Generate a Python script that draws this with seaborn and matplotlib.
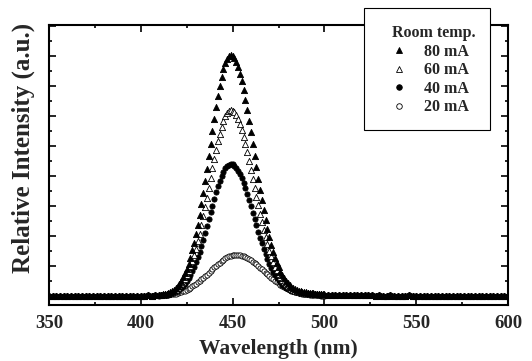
import numpy as np
import pandas as pd
import matplotlib
matplotlib.use("Agg")
import matplotlib.pyplot as plt
from matplotlib.ticker import MultipleLocator
from matplotlib.lines import Line2D
from matplotlib.patches import Rectangle
import seaborn as sns

# ---------------- data ----------------
wl_left = list(range(350, 410, 2))        # baseline, left side
wl_peak = list(range(410, 501))           # emission band, 1 nm steps
wl_right = list(range(502, 601, 2))       # baseline, right side

base_left = [0.01, 0.00, 0.01, 0.01, 0.00, 0.01, 0.00, 0.01, 0.01, 0.00,
             0.01, 0.00, 0.01, 0.01, 0.00, 0.01, 0.01, 0.00, 0.01, 0.01,
             0.00, 0.01, 0.01, 0.00, 0.01, 0.01, 0.01, 0.02, 0.01, 0.02]
base_right = [0.04, 0.04, 0.03, 0.03, 0.03, 0.03, 0.02, 0.02, 0.02, 0.02,
              0.02, 0.02, 0.02, 0.01, 0.02, 0.01, 0.01, 0.02, 0.01, 0.01,
              0.01, 0.01, 0.02, 0.01, 0.01, 0.01, 0.00, 0.01, 0.01, 0.01,
              0.00, 0.01, 0.01, 0.00, 0.01, 0.01, 0.00, 0.01, 0.01, 0.00,
              0.01, 0.00, 0.01, 0.01, 0.00, 0.01, 0.00, 0.01, 0.01, 0.00]

i80 = [0.03, 0.03, 0.05, 0.06, 0.08, 0.10, 0.13, 0.17, 0.21, 0.27,
       0.33, 0.41, 0.51, 0.63, 0.75, 0.91, 1.08, 1.28, 1.52, 1.77,
       2.05, 2.36, 2.69, 3.05, 3.43, 3.83, 4.24, 4.66, 5.08, 5.50,
       5.91, 6.30, 6.67, 7.01, 7.31, 7.56, 7.77, 7.91, 8.00, 8.03,
       8.01, 7.93, 7.81, 7.63, 7.41, 7.15, 6.87, 6.54, 6.20, 5.83,
       5.45, 5.07, 4.67, 4.29, 3.91, 3.54, 3.19, 2.85, 2.53, 2.23,
       1.96, 1.71, 1.48, 1.27, 1.10, 0.95, 0.81, 0.69, 0.59, 0.50,
       0.42, 0.36, 0.31, 0.27, 0.23, 0.20, 0.18, 0.16, 0.14, 0.13,
       0.12, 0.11, 0.10, 0.09, 0.09, 0.08, 0.07, 0.07, 0.06, 0.06,
       0.05]
i60 = [0.02, 0.03, 0.04, 0.05, 0.06, 0.08, 0.10, 0.13, 0.16, 0.21,
       0.26, 0.32, 0.39, 0.48, 0.58, 0.70, 0.84, 0.99, 1.17, 1.36,
       1.58, 1.82, 2.08, 2.36, 2.65, 2.96, 3.27, 3.60, 3.92, 4.25,
       4.56, 4.87, 5.15, 5.41, 5.64, 5.83, 6.00, 6.11, 6.18, 6.20,
       6.18, 6.12, 6.03, 5.89, 5.72, 5.52, 5.30, 5.05, 4.79, 4.50,
       4.21, 3.91, 3.61, 3.31, 3.02, 2.73, 2.46, 2.20, 1.95, 1.72,
       1.51, 1.32, 1.14, 0.98, 0.85, 0.73, 0.63, 0.53, 0.46, 0.39,
       0.33, 0.28, 0.24, 0.21, 0.18, 0.16, 0.14, 0.13, 0.11, 0.10,
       0.09, 0.09, 0.08, 0.07, 0.07, 0.06, 0.06, 0.05, 0.05, 0.04,
       0.04]
i40 = [0.01, 0.02, 0.03, 0.03, 0.04, 0.06, 0.07, 0.09, 0.12, 0.15,
       0.18, 0.23, 0.28, 0.34, 0.41, 0.50, 0.59, 0.70, 0.83, 0.97,
       1.12, 1.29, 1.47, 1.67, 1.88, 2.10, 2.32, 2.55, 2.79, 3.01,
       3.24, 3.45, 3.66, 3.84, 4.00, 4.14, 4.25, 4.33, 4.38, 4.40,
       4.39, 4.34, 4.28, 4.18, 4.06, 3.92, 3.76, 3.59, 3.40, 3.19,
       2.99, 2.78, 2.56, 2.35, 2.14, 1.94, 1.75, 1.56, 1.39, 1.22,
       1.07, 0.94, 0.81, 0.70, 0.61, 0.52, 0.45, 0.38, 0.33, 0.28,
       0.24, 0.21, 0.18, 0.16, 0.14, 0.12, 0.11, 0.10, 0.09, 0.08,
       0.07, 0.07, 0.06, 0.06, 0.05, 0.05, 0.04, 0.04, 0.04, 0.03,
       0.03]
i20 = [0.02, 0.02, 0.02, 0.03, 0.03, 0.04, 0.05, 0.06, 0.07, 0.08,
       0.10, 0.12, 0.14, 0.16, 0.18, 0.21, 0.24, 0.28, 0.32, 0.36,
       0.40, 0.45, 0.49, 0.55, 0.60, 0.65, 0.71, 0.77, 0.83, 0.89,
       0.95, 1.01, 1.06, 1.11, 1.16, 1.21, 1.25, 1.29, 1.32, 1.34,
       1.36, 1.37, 1.37, 1.37, 1.36, 1.34, 1.32, 1.30, 1.26, 1.23,
       1.19, 1.14, 1.10, 1.05, 0.99, 0.94, 0.89, 0.83, 0.78, 0.72,
       0.67, 0.61, 0.56, 0.51, 0.47, 0.42, 0.38, 0.34, 0.31, 0.27,
       0.24, 0.21, 0.19, 0.16, 0.14, 0.12, 0.11, 0.09, 0.08, 0.07,
       0.06, 0.05, 0.04, 0.03, 0.03, 0.02, 0.02, 0.02, 0.01, 0.01,
       0.01]

series_labels = ["80 mA", "60 mA", "40 mA", "20 mA"]
legend_title = "Room temp."
x_ticks = [350, 400, 450, 500, 550, 600]

# ---------------- build table ----------------
wl_all = wl_left + wl_peak + wl_right
rows = []
for lab, vals in zip(series_labels, [i80, i60, i40, i20]):
    full = base_left + vals + base_right
    for w, v in zip(wl_all, full):
        rows.append((lab, w, v))
df = pd.DataFrame(rows, columns=["current", "wavelength", "intensity"])

# ---------------- plot ----------------
sns.set_theme(style="ticks")
plt.rcParams["font.family"] = ["Liberation Serif", "DejaVu Serif"]
plt.rcParams["font.weight"] = "bold"

W, H = 532, 361
fig = plt.figure(figsize=(W / 100, H / 100), dpi=100)
ax = fig.add_axes([49 / W, 1 - 305 / H, (508 - 49) / W, (305 - 25) / H])

styles = {
    "80 mA": dict(marker="^", facecolor="black", edgecolor="black", s=20),
    "60 mA": dict(marker="^", facecolor="white", edgecolor="black", s=20),
    "40 mA": dict(marker="o", facecolor="black", edgecolor="black", s=14),
    "20 mA": dict(marker="o", facecolor="white", edgecolor="black", s=14),
}
for lab in reversed(series_labels):
    st = styles[lab]
    sub = df[df["current"] == lab]
    sns.scatterplot(data=sub, x="wavelength", y="intensity", ax=ax,
                    marker=st["marker"], s=st["s"],
                    facecolor=st["facecolor"], edgecolor=st["edgecolor"],
                    linewidth=0.6, legend=False, zorder=3)

ax.set_xlim(350, 600)
ax.set_ylim(-0.3, 9.03)
ax.set_xticks(x_ticks)
ax.xaxis.set_minor_locator(MultipleLocator(25))
ax.yaxis.set_major_locator(MultipleLocator(1))
ax.yaxis.set_minor_locator(MultipleLocator(0.5))
ax.set_yticklabels([])
ax.tick_params(which="both", direction="in", top=True, right=True,
               color="black", width=1.2)
ax.tick_params(which="major", length=5)
ax.tick_params(which="minor", length=2.5)
ax.tick_params(axis="x", which="major", labelsize=13.5, pad=7)
for lbl in ax.get_xticklabels():
    lbl.set_fontweight("bold")
for sp in ax.spines.values():
    sp.set_linewidth(1.5)
    sp.set_color("black")

ax.set_xlabel("Wavelength (nm)", fontsize=15.5, fontweight="bold", labelpad=5)
ax.set_ylabel("Relative Intensity (a.u.)", fontsize=18, fontweight="bold")
ax.yaxis.set_label_coords(-0.03, 0.56)

# legend box (figure-level so it overlays the top spine)
fig.patches.append(Rectangle((364 / W, 1 - 130 / H), (490 - 364) / W, (130 - 8) / H,
                             transform=fig.transFigure, facecolor="white",
                             edgecolor="black", linewidth=0.8, zorder=2))

handles = []
for lab in series_labels:
    st = styles[lab]
    handles.append(Line2D([], [], linestyle="none", marker=st["marker"],
                          markerfacecolor=st["facecolor"],
                          markeredgecolor=st["edgecolor"],
                          markersize=4, markeredgewidth=0.6))
leg = fig.legend(handles, series_labels, title=legend_title,
                 loc="upper left", bbox_to_anchor=(392 / W, 1 - 25 / H),
                 bbox_transform=fig.transFigure, frameon=False,
                 prop={"weight": "bold", "size": 11.5},
                 title_fontproperties={"weight": "bold", "size": 11.5},
                 alignment="left", handlelength=0.9, handletextpad=1.1,
                 labelspacing=0.16, borderpad=0, borderaxespad=0)
leg.set_zorder(5)

fig.savefig("out.png", dpi=100)
